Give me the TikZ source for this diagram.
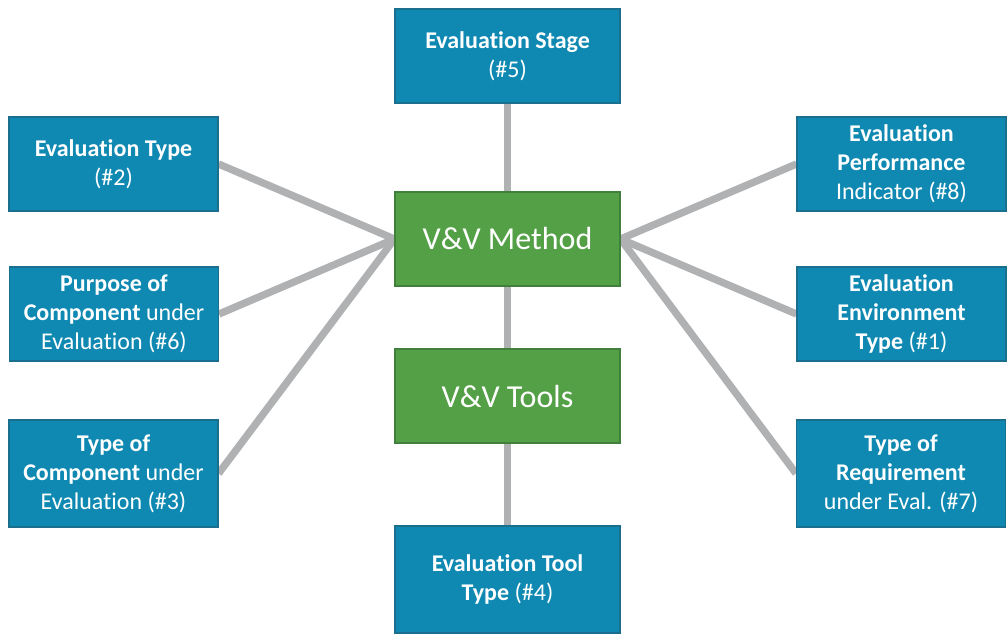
\documentclass[tikz,border=0pt]{standalone}
\usepackage{fontspec}
\setmainfont{Carlito}[Ligatures={NoCommon,NoContextual,NoRare}]
\usetikzlibrary{positioning,backgrounds}
\definecolor{Box}{HTML}{0F89B2}
\definecolor{BoxEdge}{HTML}{1A6E8E}
\definecolor{Leaf}{HTML}{54A046}
\definecolor{LeafEdge}{HTML}{41803A}
\definecolor{Spoke}{HTML}{B0B1B3}
\newcommand\Eval{Evalua\kern0pt tion}
\tikzset{
  cat/.style={rectangle,draw=BoxEdge,line width=.8pt,fill=Box,text=white,align=center,font=\fontsize{18}{21.8}\selectfont,minimum width=156.75pt,minimum height=70.5pt,inner sep=2pt},
  catwide/.style={cat,minimum width=168.75pt},
  cattall/.style={cat,minimum height=80.25pt},
  core/.style={rectangle,draw=LeafEdge,line width=.8pt,fill=Leaf,text=white,font=\fontsize{24}{28}\selectfont,minimum width=168.75pt,minimum height=70.5pt},
  spoke/.style={draw=Spoke,line width=5.5pt}
}

\begin{document}
\begin{tikzpicture}[x=.75pt,y=-.75pt]
    \useasboundingbox (0,0) rectangle (1008,633);
    \node[core] (method) at (507.5,239) {V\&V Method};
    \node[core] (tools) at (507.5,396) {V\&V Tools};
    \node[catwide] (stage) at (507.5,56) {\textbf{\Eval{} Stage}\\(\#5)};
    \node[catwide,cattall,minimum width=168.75pt] (tooltype) at (507.5,579.5) {\textbf{\Eval{} Tool}\\\textbf{Type} (\#4)};
    \node[cat] (evaltype) at (113.5,164) {\textbf{\Eval{} Type}\\(\#2)};
    \node[cat] (purpose) at (114,314) {\textbf{Purpose of}\\\textbf{Component} under\\\Eval{} (\#6)};
    \node[cattall] (comptype) at (113.5,473.5) {\textbf{Type of}\\\textbf{Component} under\\\Eval{} (\#3)};
    \node[cat] (perf) at (901.5,164) {\textbf{\Eval}\\\textbf{Performance}\\Indicator (\#8)};
    \node[cat] (env) at (901.5,314) {\textbf{\Eval}\\\textbf{Environment}\\\textbf{Type} (\#1)};
    \node[cattall] (reqtype) at (901,473.5) {\textbf{Type of}\\\textbf{Requirement}\\under Eval. (\#7)};
    \begin{scope}[on background layer]
      \draw[spoke] (stage)--(method);
      \draw[spoke] (method)--(tools);
      \draw[spoke] (tools)--(tooltype);
      \draw[spoke] (evaltype.east)--(method.west);
      \draw[spoke] (purpose.east)--(method.west);
      \draw[spoke] (comptype.east)--(method.west);
      \draw[spoke] (perf.west)--(method.east);
      \draw[spoke] (env.west)--(method.east);
      \draw[spoke] (reqtype.west)--(method.east);
    \end{scope}
  \end{tikzpicture}
\end{document}
